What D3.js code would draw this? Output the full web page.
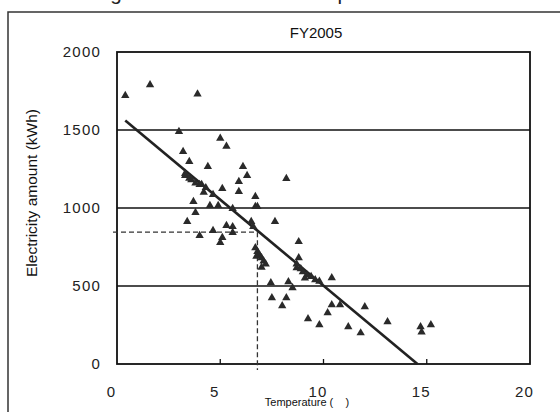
<!DOCTYPE html>
<html><head><meta charset="utf-8">
<script src="https://cdn.jsdelivr.net/npm/d3@7"></script>
<style>
html,body{margin:0;padding:0;background:#fff;}
svg{display:block;font-family:"Liberation Sans",Arial,sans-serif;}
</style></head>
<body><svg id="c" width="560" height="412"></svg>
<script>
// ---- data ----
const temperature = [
  0.4,1.6,3.9,3.0,5.0,5.3,3.2,3.5,4.4,6.1,6.3,3.3,8.2,4.0,5.9,5.9,5.1,6.7,3.7,4.5,
  4.9,5.6,6.7,6.8,3.8,3.4,7.65,5.3,5.6,4.65,4.0,5.6,5.1,5.0,6.5,6.6,6.7,6.8,6.9,7.0,
  7.1,7.2,7.0,6.75,7.45,8.3,7.5,8.2,8.0,8.7,8.8,8.8,8.7,8.9,9.0,9.2,9.4,9.6,9.8,9.1,
  10.4,8.5,10.4,10.8,10.2,12.0,9.25,9.8,11.2,11.8,13.1,14.7,14.75,15.2,3.3,3.5,3.6,3.8,4.1,4.3,
  4.65,4.2
];
const electricity = [
  1720,1790,1730,1490,1446,1395,1362,1298,1266,1266,1208,1208,1189,1150,1170,1105,1125,1073,1041,1015,
  1015,996,1009,1009,970,913,913,887,880,855,823,842,810,778,913,880,745,720,700,680,
  660,640,620,690,520,527,424,424,373,617,784,681,640,610,590,570,560,540,530,550,
  553,488,379,379,328,366,289,251,238,199,270,238,205,251,1220,1190,1180,1160,1150,1130,
  1086,1100
];
const xTicks = [0,5,10,15,20];
const yTicks = [0,500,1000,1500,2000];
const trendCoef = [1605,-110.3];      // intercept, slope
const trendRange = [0.4,14.55];
const guideTemp = 6.8, guideKwh = 845;

const svg = d3.select("#c");
const x = d3.scaleLinear().domain([0,20]).range([117,530]);
const y = d3.scaleLinear().domain([0,2000]).range([364,52]);

// clipped caption at top
svg.append("text").attr("x",93).attr("y",0).attr("font-size",20.7).attr("fill","#222")
  .text("Figure 2 Demand and Temperature");

// outer frame
svg.append("rect").attr("x",8).attr("y",12).attr("width",600).attr("height",500)
  .attr("fill","none").attr("stroke","#333").attr("stroke-width",1.5);

// title
svg.append("text").attr("x",316).attr("y",38).attr("text-anchor","middle")
  .attr("font-size",15).attr("fill","#111").text("FY2005");

// gridlines
svg.append("g").selectAll("line").data(yTicks.filter(d=>d>0&&d<2000)).join("line")
  .attr("x1",x(0)).attr("x2",x(20)).attr("y1",d=>y(d)).attr("y2",d=>y(d))
  .attr("stroke","#111").attr("stroke-width",1.6);

// axes (labels drawn via d3 axes)
const fmt = d3.format("d");
const yAxis = svg.append("g").attr("transform",`translate(${x(0)-16},0)`)
  .call(d3.axisLeft(y).tickValues(yTicks).tickFormat(fmt).tickSize(0).tickPadding(0));
yAxis.select(".domain").remove();
yAxis.selectAll("text").attr("font-size",15).attr("fill","#222")
  .attr("font-family","Liberation Sans, Arial, sans-serif").attr("letter-spacing",1.2);

const xAxis = svg.append("g").attr("transform",`translate(-6,${y(0)+22})`)
  .call(d3.axisBottom(x).tickValues(xTicks).tickFormat(fmt).tickSize(0).tickPadding(0));
xAxis.select(".domain").remove();
xAxis.selectAll("text").attr("font-size",15).attr("fill","#222")
  .attr("font-family","Liberation Sans, Arial, sans-serif").attr("letter-spacing",1.2);

// inner tick marks on x axis
svg.append("g").selectAll("line").data(xTicks.filter(d=>d>0&&d<20)).join("line")
  .attr("x1",d=>x(d)).attr("x2",d=>x(d)).attr("y1",y(0)).attr("y2",y(0)-5)
  .attr("stroke","#111").attr("stroke-width",1.3);

// plot border
svg.append("rect").attr("x",x(0)).attr("y",y(2000)).attr("width",x(20)-x(0)).attr("height",y(0)-y(2000))
  .attr("fill","none").attr("stroke","#111").attr("stroke-width",1.8);

// guide dashed lines
svg.append("line").attr("x1",x(0)-4).attr("x2",x(guideTemp)).attr("y1",y(guideKwh)).attr("y2",y(guideKwh))
  .attr("stroke","#333").attr("stroke-width",1.3).attr("stroke-dasharray","5,3");
svg.append("line").attr("x1",x(guideTemp)).attr("x2",x(guideTemp)).attr("y1",y(guideKwh)).attr("y2",y(0)+6)
  .attr("stroke","#333").attr("stroke-width",1.3).attr("stroke-dasharray","5,3");

// trend line
const line = d3.line().x(d=>x(d)).y(d=>y(trendCoef[0]+trendCoef[1]*d));
svg.append("path").attr("d",line(trendRange)).attr("fill","none")
  .attr("stroke","#222").attr("stroke-width",2.6);

// points
const tri = d3.symbol().type(d3.symbolTriangle).size(30);
svg.append("g").selectAll("path").data(temperature.map((t,i)=>[t,electricity[i]])).join("path")
  .attr("d",tri).attr("transform",d=>`translate(${x(d[0])},${y(d[1])})`)
  .attr("fill","#2a2a2a");

// axis titles
svg.append("text").attr("transform",`translate(37,193) rotate(-90)`).attr("text-anchor","middle")
  .attr("font-size",15.5).attr("fill","#111").text("Electricity amount (kWh)");
svg.append("text").attr("x",307).attr("y",406).attr("text-anchor","middle")
  .attr("font-size",11).attr("fill","#111").attr("xml:space","preserve").style("white-space","pre")
  .text("Temperature (    )");
</script></body></html>
